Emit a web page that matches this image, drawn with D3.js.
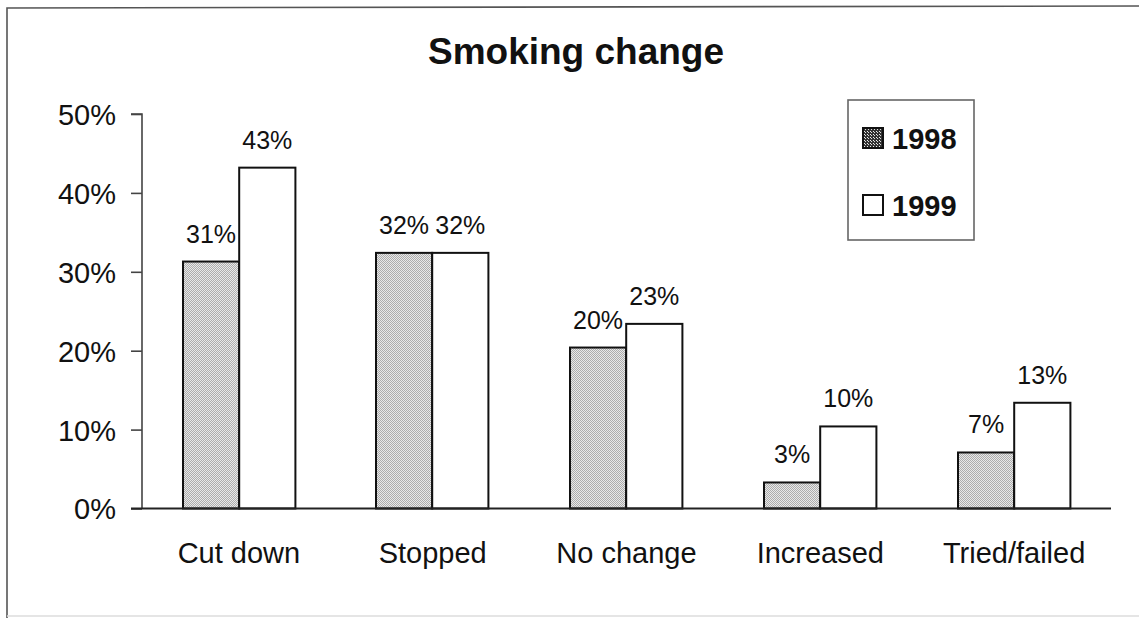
<!DOCTYPE html>
<html><head><meta charset="utf-8">
<script src="https://cdn.jsdelivr.net/npm/d3@7"></script>
<style>html,body{margin:0;padding:0;background:#fff;}svg{display:block;}</style>
</head><body>
<svg id="c" width="1139" height="618"></svg>
<script>
const categories = ["Cut down", "Stopped", "No change", "Increased", "Tried/failed"];
const series = ["1998", "1999"];
const values1998 = [31.3, 32.4, 20.4, 3.3, 7.1];
const values1999 = [43.2, 32.4, 23.4, 10.4, 13.4];
const yTicks = [0, 10, 20, 30, 40, 50];
const title = "Smoking change";

const svg = d3.select("#c");
const font = "'Liberation Sans', Arial, sans-serif";

// pattern for 1998 stipple
const defs = svg.append("defs");
const pat = defs.append("pattern").attr("id", "stip").attr("width", 2).attr("height", 2)
  .attr("patternUnits", "userSpaceOnUse");
pat.append("rect").attr("width", 2).attr("height", 2).attr("fill", "#e8e8e8");
pat.append("rect").attr("x", 0).attr("y", 0).attr("width", 1).attr("height", 1).attr("fill", "#acacac");
pat.append("rect").attr("x", 1).attr("y", 1).attr("width", 1).attr("height", 1).attr("fill", "#acacac");
const pat2 = defs.append("pattern").attr("id", "stipDark").attr("width", 3).attr("height", 3)
  .attr("patternUnits", "userSpaceOnUse");
pat2.append("rect").attr("width", 3).attr("height", 3).attr("fill", "#333");
pat2.append("rect").attr("x", 1).attr("y", 0).attr("width", 1).attr("height", 1).attr("fill", "#ddd");
pat2.append("rect").attr("x", 0).attr("y", 2).attr("width", 1).attr("height", 1).attr("fill", "#eee");

// outer frame
svg.append("path").attr("d", "M7,618 L7,8 L1139,6").attr("fill", "none")
  .attr("stroke", "#555").attr("stroke-width", 1.6);
svg.append("line").attr("x1", 7).attr("x2", 1139).attr("y1", 616).attr("y2", 616)
  .attr("stroke", "#ddd").attr("stroke-width", 1.5);

const x0 = d3.scaleBand().domain(categories).range([142, 1111])
  .paddingInner(0.42).paddingOuter(0.21);
const x1 = d3.scaleBand().domain(series).range([0, x0.bandwidth()]);
const y = d3.scaleLinear().domain([0, 50]).range([508.5, 114]);

// title
svg.append("text").attr("x", 576).attr("y", 64).attr("text-anchor", "middle")
  .attr("font-family", font).attr("font-weight", "bold").attr("font-size", 37)
  .attr("fill", "#111").text(title);

// y axis
const yAxis = d3.axisLeft(y).tickValues(yTicks).tickFormat(d => d + "%").tickSize(11).tickPadding(15);
const gy = svg.append("g").attr("transform", "translate(142,0)").call(yAxis);
gy.select(".domain").attr("stroke", "#444").attr("stroke-width", 1.6).attr("d", "M-11," + y(50) + "H0V" + y(0));
gy.selectAll(".tick line").attr("stroke", "#444").attr("stroke-width", 1.6);
gy.selectAll(".tick text").attr("font-family", font).attr("font-size", 29).attr("fill", "#111").attr("dy", "0.36em");

const data = categories.map((c, i) => ({cat: c, vals: [
  {s: "1998", v: values1998[i]}, {s: "1999", v: values1999[i]}]}));

const groups = svg.append("g").selectAll("g").data(data).join("g")
  .attr("transform", d => `translate(${Math.round(x0(d.cat))},0)`);

groups.selectAll("rect").data(d => d.vals).join("rect")
  .attr("x", d => x1(d.s)).attr("width", x1.bandwidth())
  .attr("y", d => y(d.v)).attr("height", d => y(0) - y(d.v))
  .attr("fill", d => d.s === "1998" ? "url(#stip)" : "#fff")
  .attr("stroke", "#111").attr("stroke-width", 2);

groups.selectAll("text").data(d => d.vals).join("text")
  .attr("x", d => x1(d.s) + x1.bandwidth() / 2).attr("y", d => y(d.v) - 19)
  .attr("text-anchor", "middle").attr("font-family", font).attr("font-size", 25).attr("fill", "#111")
  .text(d => d3.format(".0f")(d.v) + "%");

// x axis
const xAxis = d3.axisBottom(x0).tickSize(0).tickPadding(34);
const gx = svg.append("g").attr("transform", `translate(0,${y(0)})`).call(xAxis);
gx.select(".domain").attr("stroke", "#222").attr("stroke-width", 1.8).attr("d", "M131,0H1111");
gx.selectAll(".tick text").attr("font-family", font).attr("font-size", 29).attr("fill", "#111");

// legend
const lg = svg.append("g");
lg.append("rect").attr("x", 848).attr("y", 100).attr("width", 126).attr("height", 140)
  .attr("fill", "#fff").attr("stroke", "#666").attr("stroke-width", 1.6);
const ly = d3.scalePoint().domain(series).range([138, 205]);
lg.selectAll("rect.sw").data(series).join("rect").attr("class", "sw")
  .attr("x", 863).attr("y", d => ly(d) - 10).attr("width", 20).attr("height", 20)
  .attr("fill", d => d === "1998" ? "url(#stipDark)" : "#fff")
  .attr("stroke", "#111").attr("stroke-width", 2);
lg.selectAll("text").data(series).join("text")
  .attr("x", 892).attr("y", d => ly(d) + 10.5)
  .attr("font-family", font).attr("font-weight", "bold").attr("font-size", 29).attr("fill", "#111")
  .text(d => d);
</script>
</body></html>
